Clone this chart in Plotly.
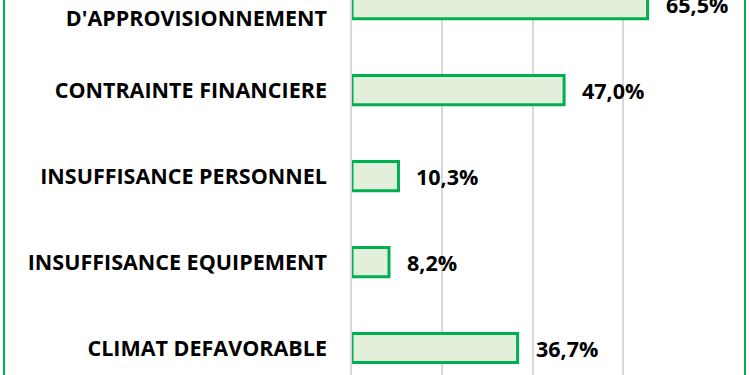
import plotly.graph_objects as go

categories = ["DIFFICULTE<br>D'APPROVISIONNEMENT", "CONTRAINTE FINANCIERE",
              "INSUFFISANCE PERSONNEL", "INSUFFISANCE EQUIPEMENT", "CLIMAT DEFAVORABLE"]
values = [65.5, 47.0, 10.3, 8.2, 36.7]
x_ticks = [0, 20, 40, 60, 80]

GREEN = "#00B050"
FILL = "#E2EFDA"
GRID = "#D9D9D9"
FONT = "Open Sans"
FS = 21.5

fig = go.Figure()
fig.add_trace(go.Bar(
    x=values, y=categories, orientation="h",
    width=0.34,
    marker=dict(color=FILL, line=dict(color=GREEN, width=3)),
    hoverinfo="skip",
))

labels = [f"{v:.1f}".replace(".", ",") + "%" for v in values]
for v, c, t in zip(values, categories, labels):
    fig.add_annotation(x=v, y=c, text=f"<b>{t}</b>", showarrow=False,
                       xanchor="left", yanchor="middle", xshift=16,
                       font=dict(family=FONT, size=FS, color="#000000"))

fig.update_layout(
    width=750, height=375,
    margin=dict(l=352, r=37, t=0, b=0, autoexpand=False),
    paper_bgcolor="white", plot_bgcolor="white",
    showlegend=False,
    xaxis=dict(range=[0, 80], tickvals=x_ticks, showticklabels=False,
               showgrid=True, gridcolor=GRID, gridwidth=1.5,
               zeroline=False, showline=False, automargin=False),
    yaxis=dict(categoryorder="array", categoryarray=categories[::-1],
               range=[-0.314, 4.047], automargin=False,
               showline=True, linecolor=GRID, linewidth=1.5,
               showgrid=False, ticks="", ticklabelstandoff=19,
               tickfont=dict(family=FONT, size=FS, color="#000000", weight="bold")),
    shapes=[dict(type="rect", xref="paper", yref="paper",
                 x0=-0.964, x1=1.0886, y0=-0.2, y1=1.2,
                 line=dict(color=GREEN, width=2), fillcolor="rgba(0,0,0,0)",
                 layer="above")],
)

fig.write_html("out.html", config={"displayModeBar": False},
               post_script="document.body.style.margin='0';")
